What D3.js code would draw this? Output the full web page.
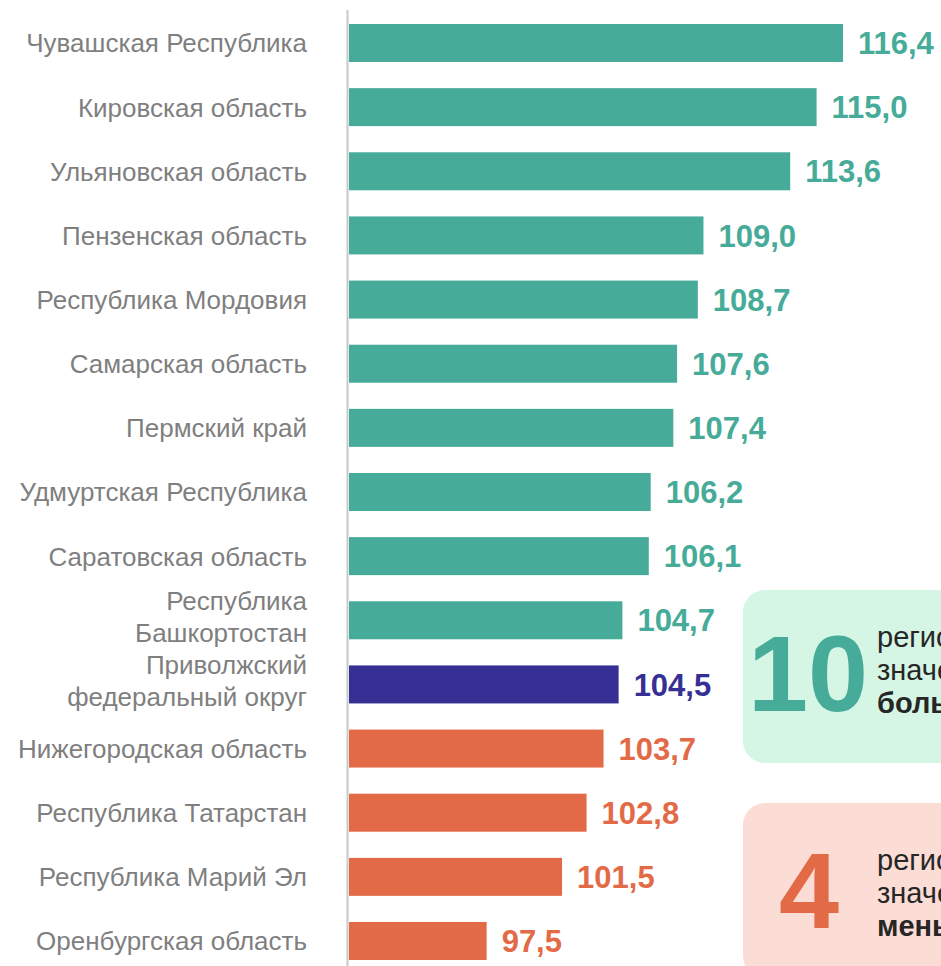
<!DOCTYPE html>
<html><head><meta charset="utf-8">
<script src="https://cdn.jsdelivr.net/npm/d3@7"></script>
<style>html,body{margin:0;padding:0;background:#fff;overflow:hidden}</style>
</head><body>
<svg id="c" width="941" height="966"></svg>
<script>
const categories = [
  ["Чувашская Республика"],
  ["Кировская область"],
  ["Ульяновская область"],
  ["Пензенская область"],
  ["Республика Мордовия"],
  ["Самарская область"],
  ["Пермский край"],
  ["Удмуртская Республика"],
  ["Саратовская область"],
  ["Республика", "Башкортостан"],
  ["Приволжский", "федеральный округ"],
  ["Нижегородская область"],
  ["Республика Татарстан"],
  ["Республика Марий Эл"],
  ["Оренбургская область"]
];
const values = [116.4,115.0,113.6,109.0,108.7,107.6,107.4,106.2,106.1,104.7,104.5,103.7,102.8,101.5,97.5];
const groups = ["up","up","up","up","up","up","up","up","up","up","avg","down","down","down","down"];
const colors = {up:"#46ab98", avg:"#363095", down:"#e36a47"};
const boxes = [
  {num:"10", lines:["регионов имеют","значение индекса","больше, чем в ПФО"], fill:"#d5f5e5", color:"#46ab98"},
  {num:"4", lines:["региона имеют","значение индекса","меньше, чем в ПФО"], fill:"#fcddd5", color:"#e36a47"}
];

const FONT = "'Liberation Sans', Arial, Helvetica, sans-serif";
const svg = d3.select("#c");
const x = d3.scaleLinear().domain([90.2, 116.4]).range([349, 843]);
const y = d3.scaleBand().domain(d3.range(values.length)).range([24, 960]).paddingInner(0.4076).paddingOuter(0);
const fmt = v => d3.format(".1f")(v).replace(".", ",");

// boxes
const bx = [{y:590,h:173},{y:803,h:175}];
boxes.forEach((b,i)=>{
  const g = svg.append("g");
  g.append("rect").attr("x",743).attr("y",bx[i].y).attr("width",240).attr("height",bx[i].h).attr("rx",22).attr("fill",b.fill);
  g.append("text").attr("x", i===0?808:809).attr("y", i===0?711:928).attr("text-anchor","middle")
    .attr("font-family",FONT).attr("font-weight","bold")
    .attr("font-size", 108).attr("fill", b.color).text(b.num);
  b.lines.forEach((l,j)=>{
    g.append("text").attr("x",877).attr("y",(i===0?647:870)+j*33)
      .attr("font-family",FONT).attr("font-size",29)
      .attr("font-weight", j===2?"bold":"normal").attr("fill","#262626").text(l);
  });
});

// bars
svg.append("g").selectAll("rect").data(values).join("rect")
  .attr("x", x(90.2)).attr("y",(d,i)=>y(i)).attr("height", y.bandwidth())
  .attr("width", d=>x(d)-x(90.2)).attr("fill",(d,i)=>colors[groups[i]]);

// value labels
svg.append("g").selectAll("text").data(values).join("text")
  .attr("x", d=>x(d)+15).attr("y",(d,i)=>y(i)+y.bandwidth()/2).attr("dy","0.36em")
  .attr("font-family",FONT).attr("font-weight","bold").attr("font-size",31)
  .attr("fill",(d,i)=>colors[groups[i]]).text(fmt);

// category labels
const lab = svg.append("g");
categories.forEach((c,i)=>{
  const cy = y(i)+y.bandwidth()/2;
  const n = c.length;
  c.forEach((t,j)=>{
    lab.append("text").attr("x",307).attr("y", cy + (j-(n-1)/2)*32 - (n>1?4:0)).attr("dy","0.36em")
      .attr("text-anchor","end").attr("font-family",FONT)
      .attr("font-size",26).attr("fill","#7f7f7f").text(t);
  });
});

// axis line
svg.append("line").attr("x1",347.5).attr("x2",347.5).attr("y1",10).attr("y2",966)
  .attr("stroke","#c8c8c8").attr("stroke-width",2);
</script>
</body></html>
